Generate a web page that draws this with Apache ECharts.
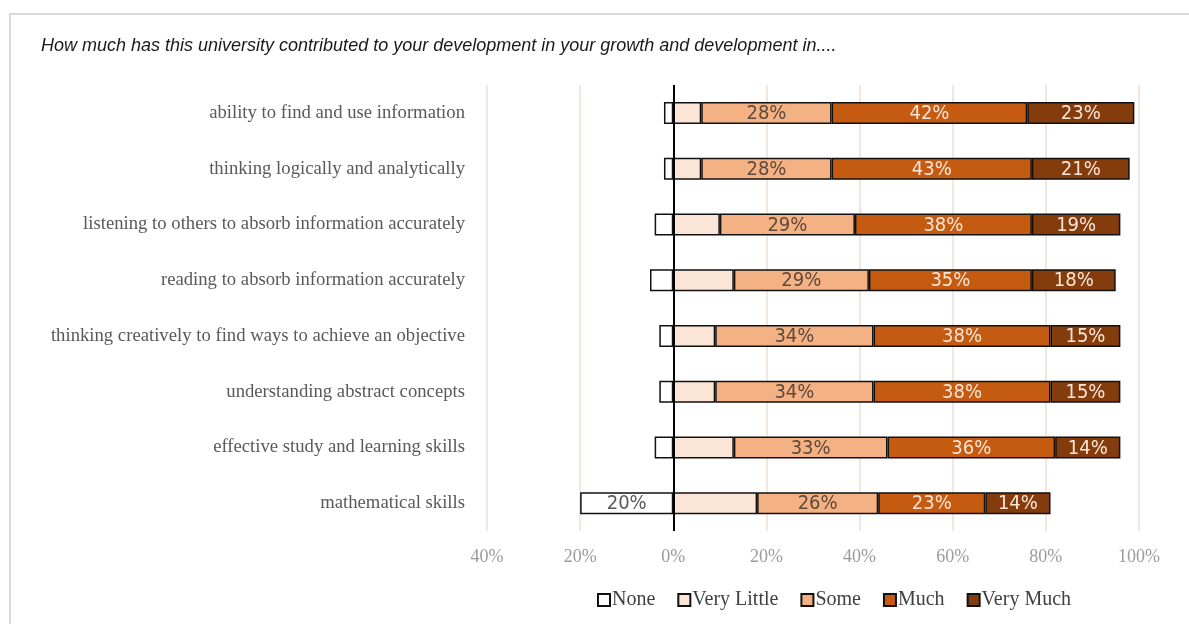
<!DOCTYPE html>
<html><head><meta charset="utf-8">
<script src="https://cdn.jsdelivr.net/npm/echarts@6/dist/echarts.min.js"></script>
<style>html,body{margin:0;padding:0;background:#fff}#c{width:1189px;height:624px}</style>
</head><body><div id="c"></div>
<script>
const categories = [
  'ability to find and use information',
  'thinking logically and analytically',
  'listening to others to absorb information accurately',
  'reading to absorb information accurately',
  'thinking creatively to find ways to achieve an objective',
  'understanding abstract concepts',
  'effective study and learning skills',
  'mathematical skills'
];
const seriesNames = ['None', 'Very Little', 'Some', 'Much', 'Very Much'];
const none       = [2, 2, 4, 5, 3, 3, 4, 20];
const veryLittle = [6, 6, 10, 13, 9, 9, 13, 18];
const some       = [28, 28, 29, 29, 34, 34, 33, 26];
const much       = [42, 43, 38, 35, 38, 38, 36, 23];
const veryMuch   = [23, 21, 19, 18, 15, 15, 14, 14];
const tickValues = [-40, -20, 0, 20, 40, 60, 80, 100];

const colors = ['#ffffff', '#fbe5d6', '#f4b183', '#c55a11', '#843c0c'];
const labelColors = ['#595959', '#595959', '#5e4a3c', '#fbe5d6', '#fbe5d6'];
const showLabel = [true, false, true, true, true];
const values = [none.map(v => -v), veryLittle, some, much, veryMuch];
const labelFont = '"DejaVu Sans Condensed", "Liberation Sans Narrow", "Arial Narrow", sans-serif';
const serif = '"Liberation Serif", "DejaVu Serif", serif';

const series = seriesNames.map((name, i) => ({
  name, type: 'bar', stack: 'total', barWidth: 22,
  itemStyle: { color: colors[i], borderColor: '#111', borderWidth: 1.5 },
  data: values[i].map(v => ({
    value: v,
    label: { show: showLabel[i] && Math.abs(v) >= 10 }
  })),
  label: {
    position: 'inside', color: labelColors[i], fontFamily: labelFont, fontSize: 20,
    offset: [0, 1],
    formatter: p => Math.abs(p.value) + '%'
  },
  emphasis: { disabled: true },
  markLine: i === 0 ? {
    silent: true, symbol: 'none', label: { show: false },
    lineStyle: { color: '#000', width: 2, type: 'solid' },
    data: [{ xAxis: 0 }]
  } : undefined
}));

const chart = echarts.init(document.getElementById('c'));
chart.setOption({
  animation: false,
  backgroundColor: '#fff',
  title: {
    text: 'How much has this university contributed to your development in your growth and development in....',
    left: 36, top: 32,
    textStyle: { fontFamily: '"Liberation Sans", Arial, sans-serif', fontStyle: 'italic', fontWeight: 'normal', fontSize: 18, color: '#1a1a1a' }
  },
  graphic: [{
    type: 'rect', shape: { x: 10, y: 14, width: 1300, height: 700 },
    style: { fill: 'none', stroke: '#d9d9d9', lineWidth: 2 }, silent: true
  }],
  legend: {
    data: seriesNames, left: 592, top: 585, icon: 'rect', itemWidth: 12, itemHeight: 12, itemGap: 22,
    textStyle: { fontFamily: serif, fontSize: 20, color: '#404040', padding: [0, 0, 0, -3] }
  },
  grid: { left: 487, right: 50, top: 85, bottom: 93, containLabel: false },
  xAxis: {
    type: 'value', min: tickValues[0], max: tickValues[tickValues.length - 1], interval: 20,
    axisLine: { show: false }, axisTick: { show: false },
    splitLine: { show: true, lineStyle: { color: '#f5e6dc', width: 2 } },
    axisLabel: {
      margin: 17, fontFamily: serif, fontSize: 18, color: '#9a9a9a',
      formatter: v => Math.abs(v) + '%'
    }
  },
  yAxis: {
    type: 'category', data: categories, inverse: true,
    axisLine: { show: false }, axisTick: { show: false },
    axisLabel: { margin: 22, fontFamily: serif, fontSize: 18.7, color: '#595959' }
  },
  series
});
</script></body></html>
